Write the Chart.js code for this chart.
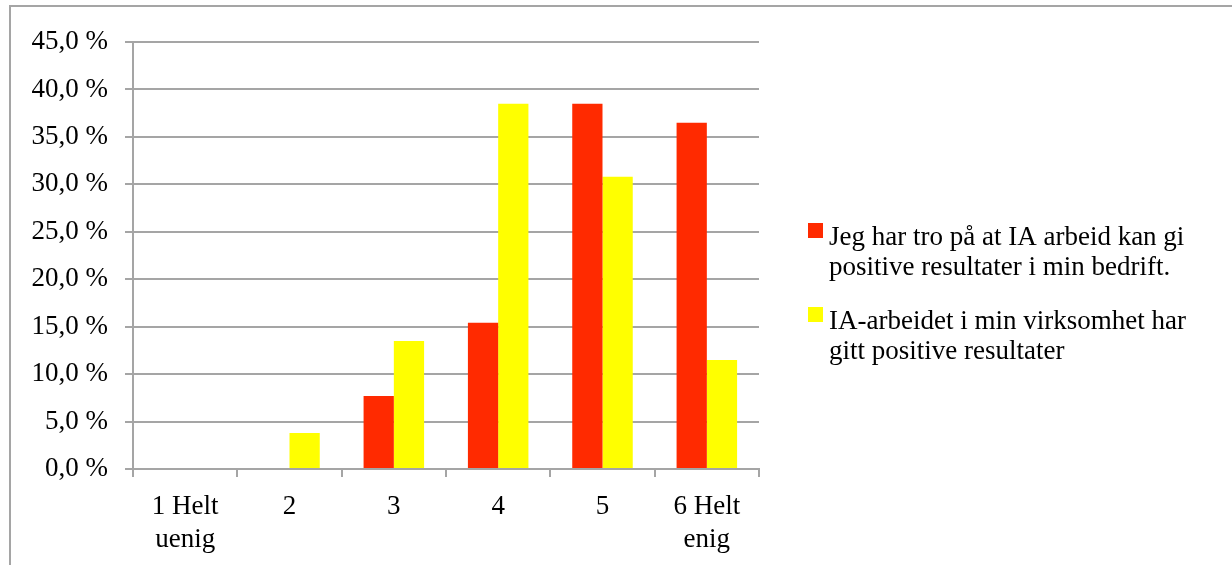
<!DOCTYPE html>
<html>
<head>
<meta charset="utf-8">
<script src="https://cdn.jsdelivr.net/npm/chart.js@4.4.1/dist/chart.umd.min.js"></script>
<style>
  html, body { margin: 0; padding: 0; background: #fff; overflow: hidden; }
  #frame { position: absolute; left: 9px; top: 5px; width: 1300px; height: 700px; border: 2px solid #a5a5a5; }
  #wrap { position: absolute; left: 0; top: 0; width: 1232px; height: 565px; }
</style>
</head>
<body>
<div id="frame"></div>
<div id="wrap"><canvas id="chart" width="1232" height="565"></canvas></div>
<script>
const categories = [['1 Helt', 'uenig'], '2', '3', '4', '5', ['6 Helt', 'enig']];
const troPaa = [0, 0, 7.7, 15.4, 38.5, 36.5];
const gittResultater = [0, 3.8, 13.5, 38.5, 30.8, 11.5];
const seriesLines = [
    ['Jeg har tro på at IA arbeid kan gi', 'positive resultater i min bedrift.'],
    ['IA-arbeidet i min virksomhet har', 'gitt positive resultater']
];
const yTicks = { min: 0, max: 45, step: 5 };

const FONT = '"Liberation Serif", serif';
const gridColor = '#a5a5a5';

// legend drawn by hand, text wraps on two lines like the original
const sideLegend = {
    id: 'sideLegend',
    afterDraw(chart) {
        const c = chart.ctx;
        const tops = [223, 307];
        c.save();
        c.font = '27px ' + FONT;
        c.textBaseline = 'alphabetic';
        chart.data.datasets.forEach((ds, i) => {
            c.fillStyle = ds.backgroundColor;
            c.fillRect(808, tops[i], 15, 15);
            c.fillStyle = '#000';
            seriesLines[i].forEach((line, j) => {
                c.fillText(line, 829, tops[i] + 22 + j * 30);
            });
        });
        c.restore();
    }
};

new Chart(document.getElementById('chart').getContext('2d'), {
    type: 'bar',
    data: {
        labels: categories,
        datasets: [{
            label: seriesLines[0].join(' '),
            data: troPaa,
            backgroundColor: '#ff2a00',
            barPercentage: 1,
            categoryPercentage: 0.58
        }, {
            label: seriesLines[1].join(' '),
            data: gittResultater,
            backgroundColor: '#ffff00',
            barPercentage: 1,
            categoryPercentage: 0.58
        }]
    },
    options: {
        responsive: false,
        animation: false,
        layout: { padding: { left: 0, top: 42, right: 473, bottom: 0 } },
        plugins: {
            legend: { display: false },
            tooltip: { enabled: false }
        },
        scales: {
            x: {
                grid: { offset: true, drawOnChartArea: false, drawTicks: true, tickLength: 8, color: gridColor, lineWidth: 2 },
                border: { display: true, color: gridColor, width: 2 },
                ticks: { color: '#000', font: { family: FONT, size: 27, lineHeight: 1.2 }, padding: 14, maxRotation: 0 },
                afterFit: s => { s.height = 96; }
            },
            y: {
                min: yTicks.min,
                max: yTicks.max,
                grid: { color: gridColor, lineWidth: 2, drawTicks: true, tickLength: 8 },
                border: { display: true, color: gridColor, width: 2 },
                ticks: {
                    stepSize: yTicks.step,
                    color: '#000',
                    font: { family: FONT, size: 27 },
                    padding: 17,
                    callback: v => v.toFixed(1).replace('.', ',') + ' %'
                },
                afterFit: s => { s.width = 133; }
            }
        }
    },
    plugins: [sideLegend]
});
</script>
</body>
</html>
